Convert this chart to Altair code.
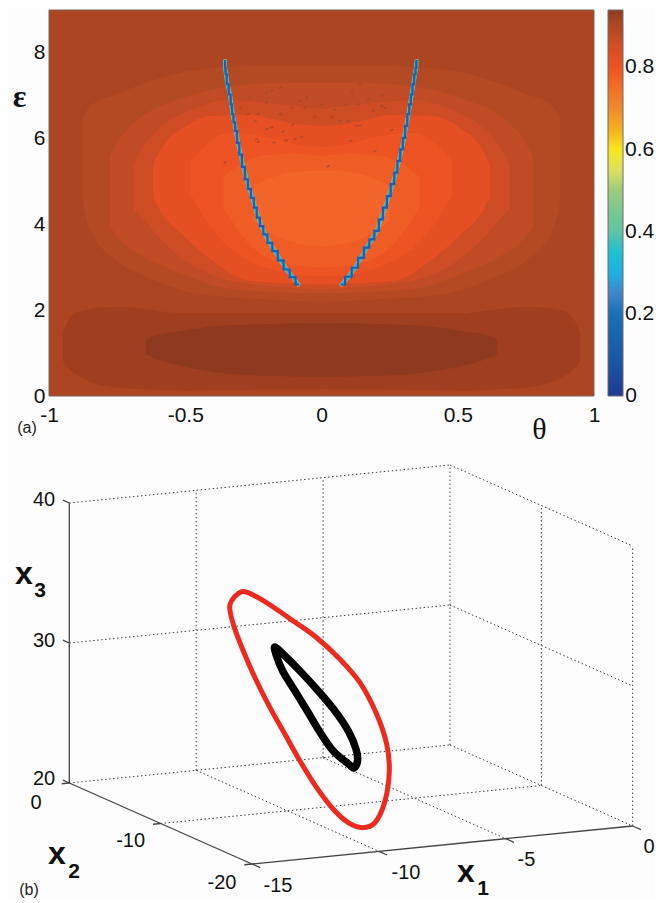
import altair as alt
import pandas as pd

FONT = "Liberation Sans"

# ---------- panel (a): contour bands (theta, lower eps, upper eps), left half
BANDS = [
    (0.895, [-.875, -.85, -.75, -.63, -.446, -.2, 0], [4.5, 3.9, 3.15, 2.75, 2.37, 2.25, 2.2], [6.5, 6.75, 7.04, 7.34, 7.62, 7.7, 7.7]),
    (0.88, [-.776, -.74, -.666, -.508, -.36, -.15, 0], [3.95, 3.65, 3.3, 2.84, 2.52, 2.42, 2.4], [5.6, 6.0, 6.48, 6.95, 7.2, 7.3, 7.3]),
    (0.86, [-.69, -.65, -.593, -.47, -.347, -.15, 0], [4.35, 4.1, 3.68, 3.03, 2.7, 2.55, 2.5], [5.4, 5.85, 6.25, 6.69, 6.9, 6.8, 6.7]),
    (0.82, [-.618, -.58, -.508, -.41, -.262, -.1, 0], [4.62, 4.2, 3.75, 3.2, 2.68, 2.62, 2.6], [5.41, 5.85, 6.25, 6.53, 6.55, 6.35, 6.3]),
    (0.80, [-.48, -.44, -.336, -.2, -.08, 0], [4.7, 4.25, 3.45, 2.98, 2.82, 2.8], [5.48, 5.75, 6.13, 6.05, 5.85, 5.8]),
    (0.79, [-.36, -.31, -.22, -.1, 0], [4.4, 3.9, 3.3, 3.05, 3.0], [5.1, 5.35, 5.6, 5.65, 5.6]),
    (0.78, [-.25, -.2, -.1, 0], [4.1, 3.85, 3.58, 3.5], [4.9, 5.05, 5.22, 5.25]),
    (0.925, [-.948, -.92, -.875, -.75, -.5, -.2, 0], [.8, .6, .4, .2, .13, .15, .16], [1.5, 1.85, 2.0, 2.08, 1.93, 1.93, 1.93]),
    (0.94, [-.645, -.604, -.5, -.384, -.2, 0], [.98, .86, .68, .55, .47, .45], [1.32, 1.42, 1.53, 1.63, 1.68, 1.7]),
]
BACKGROUND_LEVEL = 0.91

LEFT_T = [-.354, -.354, -.350, -.345, -.336, -.331, -.326, -.320, -.314, -.306, -.297, -.287, -.275, -.265, -.253, -.243, -.232, -.220, -.207, -.190, -.171, -.150, -.128, -.105, -.085]
LEFT_E = [7.81, 7.65, 7.50, 7.27, 7.03, 6.80, 6.57, 6.38, 6.18, 5.90, 5.63, 5.34, 5.05, 4.83, 4.62, 4.39, 4.16, 3.96, 3.77, 3.57, 3.38, 3.16, 2.95, 2.77, 2.60]
RIGHT_T = [.349, .347, .343, .337, .331, .325, .319, .311, .303, .294, .284, .273, .261, .247, .233, .218, .203, .185, .166, .145, .123, .099, .074]
RIGHT_E = [7.81, 7.65, 7.50, 7.27, 7.03, 6.80, 6.57, 6.30, 6.02, 5.75, 5.48, 5.21, 4.94, 4.66, 4.39, 4.12, 3.85, 3.65, 3.46, 3.22, 2.99, 2.78, 2.60]

SPECK_T = [-.299, -.269, -.232, -.244, -.201, -.183, -.152, -.106, -.024, .037, .068, .098, .141, .196, .025, -.354,
           -.238, -.232, -.174, -.130, -.097, -.073, -.142, -.152, -.183, -.201, -.201, -.262, -.109, -.079, -.054,
           .092, .135, .172, .221, .233, .190, .050, .141, .107, .129, .221, .258, .111, .001, -.061]
SPECK_E = [6.72, 6.57, 6.57, 6.41, 6.22, 6.26, 6.57, 6.33, 6.51, 6.51, 6.41, 6.41, 6.30, 5.71, 5.36, 5.44,
           5.99, 5.93, 5.91, 5.96, 5.99, 6.04, 6.16, 7.19, 7.13, 7.07, 6.84, 6.96, 6.72, 6.88, 6.96,
           6.80, 6.80, 6.92, 7.01, 6.72, 6.65, 6.68, 7.27, 5.95, 6.30, 6.76, 6.20, 7.11, 6.80, 6.71]

COLOR_STOPS = [0, .1, .2, .25, .29, .32, .4, .5, .55, .6, .65, .7, .75, .78, .79, .80, .82, .86, .88, .895, .91, .925, .94]
COLOR_HEX = ["#1f3a93", "#1b5aa8", "#1a6fb5", "#3f85c8", "#22a8e0", "#20bce8", "#5fc3a5", "#9ccb7c", "#dde060", "#f8e71c",
             "#f5b020", "#ef8a2c", "#f27028", "#f2642a", "#f05c26", "#ee5423", "#e54f22", "#cf4d25", "#c04b25", "#b44a24", "#ab4522",
             "#a03f1f", "#8f3a1e"]
CB_TICKS = [0, .2, .4, .6, .8]

# ---------- panel (b): loops, in view-plane units
RED_U = [241.7, 255, 271.7, 293.3, 316.7, 340, 360, 376.7, 386.7, 389.3, 385, 375, 362.3, 348.3, 333.3, 316.7, 300, 285, 270, 255, 243.3, 233.3, 230]
RED_V = [590.7, 595, 605, 620, 636.7, 658.3, 681.7, 713.3, 743.3, 770, 800, 821.7, 826.7, 821.7, 808.3, 786.7, 760, 733.3, 706.7, 676.7, 650, 623.3, 603.3]
BLACK_U = [275, 283.3, 300, 318.3, 335, 348.3, 356, 357.5, 354, 349, 333.3, 319.3, 307.3, 295, 282.7, 276]
BLACK_V = [646, 653.3, 670, 690, 710, 730, 748, 760, 767, 763.3, 750, 730, 710, 690, 670, 653.3]

X1_TICKS = [-15, -10, -5, 0]
X2_TICKS = [0, -10, -20]
X3_TICKS = [20, 30, 40]


def proj(x1, x2, x3):
    return (450 + x1 * 25.38 + x2 * -9.135, 744 - x1 * 2.533 - x2 * 4.05 - (x3 - 20) * 14)


xs = alt.Scale(domain=[-1, 1], nice=False, zero=False)
ys = alt.Scale(domain=[0, 9], nice=False, zero=False)
cs = alt.Scale(domain=COLOR_STOPS, range=COLOR_HEX, clamp=True)

x_axis = alt.Axis(values=[-1, -.5, 0, .5, 1], labelExpr="'' + datum.value", labelFont=FONT, labelFontSize=21,
                  labelColor="#111", labelPadding=8, tickSize=0, domain=False, grid=False, title="θ",
                  titleFont="Liberation Serif", titleFontSize=30, titleFontWeight="normal", titleX=490, titleY=33,
                  titleColor="#111", titleBaseline="middle", labelFlush=False)
y_axis = alt.Axis(values=[0, 2, 4, 6, 8], labelExpr="'' + datum.value", labelFont=FONT, labelFontSize=21, labelColor="#111", labelPadding=4,
                  tickSize=0, domain=False, grid=False, title="ε", titleFont="Liberation Serif", titleFontSize=32,
                  titleFontWeight="bold", titleAngle=0, titleX=-30, titleY=86, titleColor="#111",
                  titleBaseline="middle", titleAlign="center")
legend = alt.Legend(orient="none", legendX=559, legendY=0, gradientLength=386, gradientThickness=15, title=None,
                    values=CB_TICKS[1:], labelExpr="'' + datum.value", labelFont=FONT, labelFontSize=21, labelColor="#111", labelOffset=2,
                    labelBaseline="middle", gradientStrokeColor="#6a6a6a", gradientStrokeWidth=1, padding=0, direction="vertical")

X = lambda f: alt.X(f, scale=xs, axis=x_axis, title="θ")
Y = lambda f: alt.Y(f, scale=ys, axis=y_axis, title="ε")

bg = alt.Chart(pd.DataFrame({"a": [-1], "b": [1], "c": [0], "d": [9], "v": [BACKGROUND_LEVEL]})).mark_rect(
    stroke="#77655a", strokeWidth=1).encode(
    x=X("a:Q"), x2="b:Q", y=Y("c:Q"), y2="d:Q",
    color=alt.Color("v:Q", scale=cs, legend=legend))

layers = [bg]
for level, th, lo, hi in BANDS:
    t = list(th) + [-v for v in reversed(th[:-1])]
    l = list(lo) + list(reversed(lo[:-1]))
    h = list(hi) + list(reversed(hi[:-1]))
    df = pd.DataFrame({"t": t, "lo": l, "hi": h, "v": level})
    layers.append(alt.Chart(df).mark_area(interpolate="monotone").encode(
        x=X("t:Q"), y=Y("lo:Q"), y2="hi:Q",
        color=alt.Color("v:Q", scale=cs, legend=legend)))

specks = pd.DataFrame({"t": SPECK_T, "e": SPECK_E})
layers.append(alt.Chart(specks).mark_point(shape="M-1,0.45L1,-0.45", size=9, stroke="#a04a2c", strokeWidth=1.4, opacity=.85, filled=False).encode(
    x=X("t:Q"), y=Y("e:Q")))

for T, E in ((LEFT_T, LEFT_E), (RIGHT_T, RIGHT_E)):
    df = pd.DataFrame({"t": T, "e": E, "i": range(len(T))})
    for col, w, ip in (("#8fcf8a", 4.0, "linear"), ("#2ab0dc", 3.2, "linear"), ("#1462b4", 2.2, "step")):
        layers.append(alt.Chart(df).mark_line(color=col, strokeWidth=w, strokeCap="round", interpolate=ip).encode(
            x=X("t:Q"), y=Y("e:Q"), order="i:Q"))

cb = pd.DataFrame({"e": [v / .94 * 9 for v in CB_TICKS[1:]]})
for a, b in ((559, 563), (570, 574)):
    layers.append(alt.Chart(cb).mark_rule(color="#333", strokeWidth=1).encode(
        x=alt.value(a), x2=alt.value(b), y=Y("e:Q")))

layers.append(alt.Chart(pd.DataFrame({"s": ["0"], "e": [CB_TICKS[0]]})).mark_text(font=FONT, fontSize=21, color="#111", align="center", baseline="middle").encode(
    text="s:N", x=alt.value(582), y=Y("e:Q")))
layers.append(alt.Chart(pd.DataFrame({"s": ["(a)"]})).mark_text(font=FONT, fontSize=16, color="#222", align="center", baseline="middle").encode(
    text="s:N", x=alt.value(-22), y=alt.value(418)))

top = alt.layer(*layers).properties(width=545, height=386)

# ---------- panel (b)
us = alt.Scale(domain=[49, 594], nice=False, zero=False)
vs = alt.Scale(domain=[895, 450], nice=False, zero=False)


def seg(a, b):
    p, q = proj(*a), proj(*b)
    return {"x0": p[0], "y0": p[1], "x1": q[0], "y1": q[1]}


dotted = []
for x3 in (30, 40):
    dotted.append(seg((-15, 0, x3), (0, 0, x3)))
    dotted.append(seg((0, 0, x3), (0, -20, x3)))
dotted.append(seg((-15, 0, 20), (0, 0, 20)))
dotted.append(seg((0, 0, 20), (0, -20, 20)))
for x1 in (-10, -5, 0):
    dotted.append(seg((x1, 0, 20), (x1, 0, 40)))
for x2 in (-10, -20):
    dotted.append(seg((0, x2, 20), (0, x2, 40)))
for x1 in (-10, -5):
    dotted.append(seg((x1, 0, 20), (x1, -20, 20)))
dotted.append(seg((-15, -10, 20), (0, -10, 20)))

solid = [seg((-15, 0, 20), (-15, 0, 40)), seg((-15, 0, 20), (-15, -20, 20)), seg((-15, -20, 20), (0, -20, 20))]
for v in X3_TICKS:
    solid.append(seg((-15, 0, v), (-15, .7, v)))
for v in X2_TICKS:
    solid.append(seg((-15, v, 20), (-15.3, v, 20)))
for v in X1_TICKS:
    solid.append(seg((v, -20, 20), (v, -20.9, 20)))


def rules(rows, **kw):
    return alt.Chart(pd.DataFrame(rows)).mark_rule(**kw).encode(
        x=alt.X("x0:Q", scale=us, axis=None), x2="x1:Q",
        y=alt.Y("y0:Q", scale=vs, axis=None), y2="y1:Q")


def loop(U, V, col, w):
    df = pd.DataFrame({"u": U, "v": V, "i": range(len(U))})
    return alt.Chart(df).mark_line(color=col, strokeWidth=w, interpolate="cardinal-closed").encode(
        x=alt.X("u:Q", scale=us, axis=None), y=alt.Y("v:Q", scale=vs, axis=None), order="i:Q")


def texts(S, U, V, size, weight="normal", color="#111"):
    df = pd.DataFrame({"s": S, "u": U, "v": V})
    return alt.Chart(df).mark_text(font=FONT, fontSize=size, fontWeight=weight, color=color, align="center", baseline="middle").encode(
        text="s:N", x=alt.X("u:Q", scale=us, axis=None), y=alt.Y("v:Q", scale=vs, axis=None))


bottom = alt.layer(
    rules(dotted, color="#3a3a3a", strokeWidth=1, strokeDash=[1.5, 2.5]),
    rules(solid, color="#444", strokeWidth=1.3),
    loop(RED_U, RED_V, "#ee2a1e", 5),
    loop(BLACK_U, BLACK_V, "#000", 7.5),
    texts(["40", "30", "20"], [44, 44, 44], [499, 640, 778], 20),
    texts(["0", "-10", "-20"], [36, 130.6, 222], [802, 840, 882], 20),
    texts(["-15", "-10", "-5", "0"], [278, 406, 526.5, 649], [885, 872, 859, 846], 20),
    texts(["x", "x", "x"], [24, 57, 466], [573, 853, 871], 32, "bold"),
    texts(["3", "2", "1"], [40, 74, 483], [590, 871, 888], 21, "bold"),
    texts(["(b)"], [29], [889], 16, color="#222"),
).properties(width=545, height=445)

chart = alt.vconcat(top, bottom, spacing=55, bounds="flush").properties(
    background="#fdfdfe", padding={"left": 4, "top": 1, "right": 0, "bottom": 0}
).resolve_scale(color="independent").configure_view(stroke=None)

chart.save("out.html", embed_options={"renderer": "svg", "actions": False})
